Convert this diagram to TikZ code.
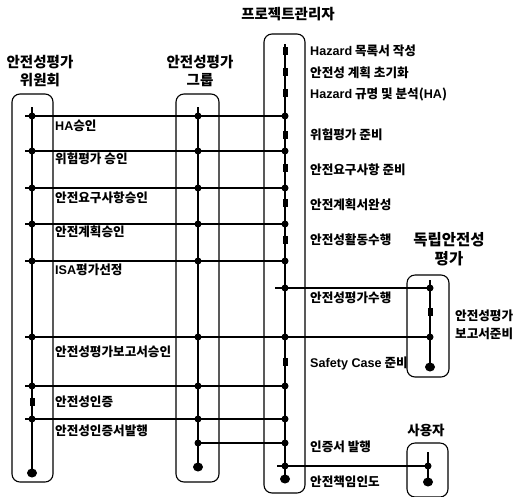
\documentclass[tikz,border=0pt]{standalone}
\usepackage{fontspec}
\setmainfont{Noto Sans CJK KR}
\newfontfamily\lf{Liberation Sans}
\usetikzlibrary{shapes.geometric}
\begin{document}
\begin{tikzpicture}[x=1pt,y=-1pt,
  lane/.style={draw,line width=1.1pt,rounded corners=8pt,inner sep=0pt},
  flow/.style={line width=1.1pt},
  jd/.style={circle,fill,inner sep=0pt,minimum size=7pt},
  md/.style={rectangle,fill,inner sep=0pt,minimum width=5pt,minimum height=8pt},
  ed/.style={ellipse,fill,inner sep=0pt,minimum width=10pt,minimum height=9pt},
  lbl/.style={anchor=west,inner sep=0pt,font=\fontsize{12.6}{18}\selectfont\bfseries},
  hdr/.style={align=center,inner sep=0pt,font=\fontsize{14.5}{18}\selectfont\bfseries}]
\useasboundingbox (0,0) rectangle (518,496);

% lane boxes
\node[lane,minimum width=41pt,minimum height=388pt] (box1) at (32.5,288) {};
\node[lane,minimum width=43pt,minimum height=388pt] (box2) at (197.5,288) {};
\node[lane,minimum width=41pt,minimum height=459pt] (box3) at (284.5,263.5) {};
\node[lane,minimum width=42pt,minimum height=102pt] (box4) at (428,326) {};
\node[lane,minimum width=41pt,minimum height=54pt] (box5) at (427.5,470) {};

% headers
\node[hdr] (hp) at (288,14) {프로젝트관리자};
\node[hdr] (h1) at (40,71) {안전성평가\\위원회};
\node[hdr] (h2) at (200,71) {안전성평가\\그룹};
\node[hdr,font=\fontsize{15.5}{19}\selectfont\bfseries] (h4) at (449,249) {독립안전성\\평가};
\node[hdr,font=\fontsize{13.5}{16}\selectfont\bfseries] (h5) at (426,430) {사용자};

% lane lines
\coordinate (t1) at (32,107);
\node[ed] (e1) at (32,473) {};
\draw[flow] (t1) -- (e1.center);
\coordinate (t2) at (198,107);
\node[ed] (e2) at (198,467) {};
\draw[flow] (t2) -- (e2.center);
\coordinate (t3) at (285,44);
\node[ed] (e3) at (285,479) {};
\draw[flow] (t3) -- (e3.center);
\coordinate (t4) at (430,280);
\node[ed] (e4) at (430,367) {};
\draw[flow] (t4) -- (e4.center);
\coordinate (t5) at (428,452);
\node[ed] (e5) at (428,482) {};
\draw[flow] (t5) -- (e5.center);

% task marks
\foreach \y [count=\i] in {51,72,93,135,168,203,240,362}
  \node[md] (k\i) at (285,\y) {};
\node[md] (k9) at (32,402) {};
\node[md] (k10) at (430,312) {};

% shared rows
\foreach \y [count=\i] in {116,151,188,224,261,337,386,419} {
  \coordinate (s\i) at (25,\y);
  \node[jd] (p\i) at (32,\y) {};
  \node[jd] (g\i) at (198,\y) {};
  \node[jd] (m\i) at (285,\y) {};
  \draw[flow] (s\i) -- (m\i.center);
}
\node[jd] (i2) at (430,337) {};
\draw[flow] (m6.center) -- (i2.center);

\node[jd] (g9) at (198,443) {};
\node[jd] (m9) at (285,443) {};
\draw[flow] (g9.center) -- (m9.center);

\coordinate (q0) at (275,288);
\node[jd] (m0) at (285,288) {};
\node[jd] (i1) at (430,288) {};
\draw[flow] (q0) -- (i1.center);

\coordinate (r0) at (277,466);
\node[jd] (m10) at (285,466) {};
\node[jd] (u1) at (428,466) {};
\draw[flow] (r0) -- (u1.center);

% committee labels
\node[lbl] (l1) at (55,126) {{\lf HA}승인};
\node[lbl] (l2) at (55,159) {위험평가 승인};
\node[lbl] (l3) at (55,198) {안전요구사항승인};
\node[lbl] (l4) at (55,232) {안전계획승인};
\node[lbl] (l5) at (55,270) {{\lf ISA}평가선정};
\node[lbl] (l6) at (55,352) {안전성평가보고서승인};
\node[lbl] (l7) at (55,402) {안전성인증};
\node[lbl] (l8) at (55,431) {안전성인증서발행};

% project manager labels
\node[lbl] (n1) at (310,51) {{\lf Hazard} 목록서 작성};
\node[lbl] (n2) at (310,73) {안전성 계획 초기화};
\node[lbl] (n3) at (310,94) {{\lf Hazard} 규명 및 분석({\lf HA})};
\node[lbl] (n4) at (310,135) {위험평가 준비};
\node[lbl] (n5) at (310,170) {안전요구사항 준비};
\node[lbl] (n6) at (310,205) {안전계획서완성};
\node[lbl] (n7) at (310,240) {안전성활동수행};
\node[lbl] (n8) at (310,298) {안전성평가수행};
\node[lbl] (n9) at (310,363) {{\lf Safety Case} 준비};
\node[lbl] (n10) at (310,447) {인증서 발행};
\node[lbl] (n11) at (310,482) {안전책임인도};

% ISA label
\node[lbl,align=left] (n12) at (455,325) {안전성평가\\보고서준비};
\end{tikzpicture}
\end{document}
